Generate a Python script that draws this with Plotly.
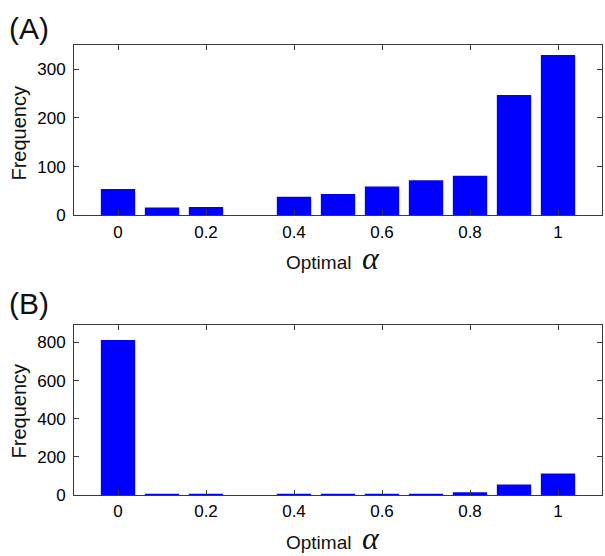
import plotly.graph_objects as go

alpha = [0.0, 0.1, 0.2, 0.3, 0.4, 0.5, 0.6, 0.7, 0.8, 0.9, 1.0]
freq_a = [54, 16, 17, 0, 38, 44, 59, 72, 81, 247, 329]
freq_b = [813, 2, 3, 0, 3, 2, 2, 2, 14, 55, 112]
xtick_vals = [0, 0.2, 0.4, 0.6, 0.8, 1.0]
xtick_text = ["0", "0.2", "0.4", "0.6", "0.8", "1"]
ytick_a = [0, 100, 200, 300]
ytick_b = [0, 200, 400, 600, 800]

W, H = 605, 556
FONT = "Liberation Sans, Arial, sans-serif"
BLUE = "#0000FF"
AX = "#3a3a3a"

fig = go.Figure()
fig.add_trace(go.Bar(x=alpha, y=freq_a, width=0.078, marker=dict(color=BLUE, line=dict(width=0)),
                     xaxis="x", yaxis="y", showlegend=False))
fig.add_trace(go.Bar(x=alpha, y=freq_b, width=0.078, marker=dict(color=BLUE, line=dict(width=0)),
                     xaxis="x2", yaxis="y2", showlegend=False))

def px_x(p):
    return p / W

def px_y(p):
    return 1 - p / H

xdom = [px_x(74), px_x(602)]
common_x = dict(range=[-0.1, 1.1], tickvals=xtick_vals, ticktext=xtick_text,
                ticks="inside", ticklen=5, tickcolor=AX, showline=True, linecolor=AX,
                linewidth=1, mirror="ticks", showgrid=False, zeroline=False,
                tickfont=dict(family=FONT, size=17, color="#000"), domain=xdom,
                ticklabelstandoff=1)
common_y = dict(ticks="inside", ticklen=5, tickcolor=AX, showline=True, linecolor=AX,
                linewidth=1, mirror="ticks", showgrid=False, zeroline=False,
                tickfont=dict(family=FONT, size=17, color="#000"), ticklabelstandoff=4)

fig.update_layout(
    width=W, height=H, margin=dict(l=0, r=0, t=0, b=0),
    paper_bgcolor="white", plot_bgcolor="white",
    xaxis=dict(**common_x, anchor="y"),
    yaxis=dict(**common_y, range=[0, 349], tickvals=ytick_a, anchor="x",
               domain=[px_y(219.3), px_y(46)]),
    xaxis2=dict(**common_x, anchor="y2"),
    yaxis2=dict(**common_y, range=[0, 893], tickvals=ytick_b, anchor="x2",
                domain=[px_y(504), px_y(330.7)]),
)

ann = []
for label, yc in [("(A)", 29), ("(B)", 309)]:
    ann.append(dict(text=label, x=px_x(7), y=px_y(yc), xref="paper", yref="paper",
                    xanchor="left", yanchor="middle", showarrow=False,
                    font=dict(family=FONT, size=30, color="#111")))
for yc in [136, 419]:
    ann.append(dict(text="Frequency", x=px_x(19), y=px_y(yc), xref="paper", yref="paper",
                    xanchor="center", yanchor="middle", textangle=-90, showarrow=False,
                    font=dict(family=FONT, size=20, color="#111")))
for yc in [263, 548]:
    ann.append(dict(text="Optimal  <span style='font-family:Liberation Serif, Times New Roman, serif;font-size:32px;font-style:italic'>α</span>",
                    x=px_x(333), y=px_y(yc), xref="paper", yref="paper",
                    xanchor="center", yanchor="middle", showarrow=False,
                    font=dict(family=FONT, size=19, color="#111")))
fig.update_layout(annotations=ann)

fig.write_html("out.html")
